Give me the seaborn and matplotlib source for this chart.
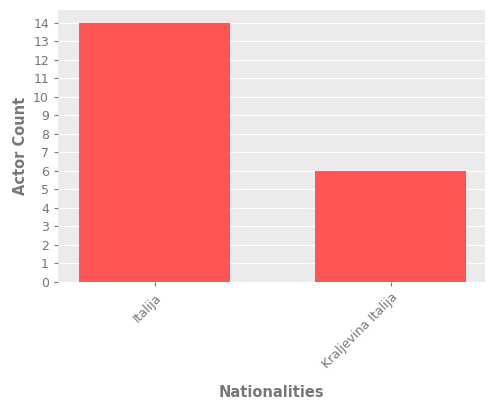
import matplotlib
matplotlib.use("Agg")
import matplotlib.pyplot as plt
import seaborn as sns
import pandas as pd

nationalities = ["Italija", "Kraljevina Italija"]
actor_counts = [14, 6]

df = pd.DataFrame({"Nationality": nationalities, "Count": actor_counts})

fig, ax = plt.subplots(figsize=(5, 4), dpi=100)
fig.subplots_adjust(left=0.116, right=0.97, top=0.975, bottom=0.295)
ax.set_facecolor("#EBEBEB")
sns.barplot(data=df, x="Nationality", y="Count", color="#FF5555", saturation=1, width=0.64, ax=ax)

ax.set_yticks(range(0, 15))
ax.set_ylim(0, 14.7)
ax.set_xlim(-0.41, 1.40)
ax.grid(axis="y", color="white", linewidth=0.8)
ax.grid(axis="x", visible=False)
ax.set_axisbelow(True)
for s in ax.spines.values():
    s.set_visible(False)
ax.tick_params(colors="#777777", labelsize=9, length=3)
plt.setp(ax.get_xticklabels(), rotation=45, ha="right", rotation_mode="anchor")
ax.set_xlabel("Nationalities", color="#777777", fontsize=10.5, fontweight="semibold", labelpad=10)
ax.set_ylabel("Actor Count", color="#777777", fontsize=10.5, fontweight="semibold")

fig.savefig("out.png")
